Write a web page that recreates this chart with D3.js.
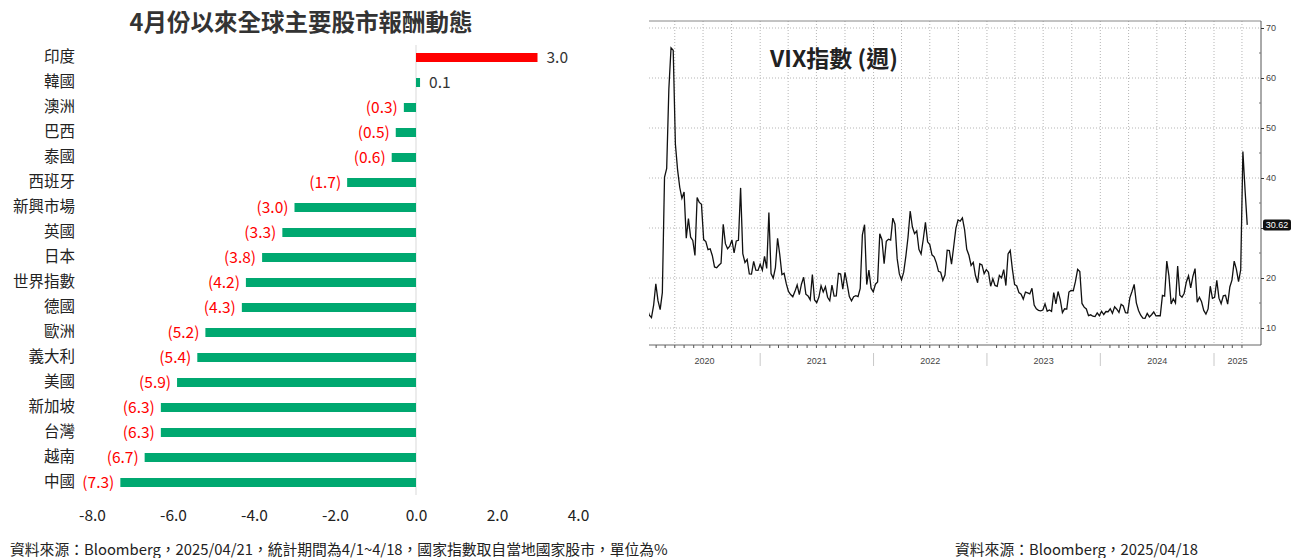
<!DOCTYPE html>
<html>
<head>
<meta charset="utf-8">
<script src="https://cdn.jsdelivr.net/npm/d3@7"></script>
<style>
  body { margin: 0; background: #fff; }
  svg { display: block; font-family: "Noto Sans CJK TC", "Noto Sans", sans-serif; }
</style>
</head>
<body>
<svg id="chart" width="1296" height="558"></svg>
<script>
// ---- left chart: returns since April (%)
var countries = ["印度", "韓國", "澳洲", "巴西", "泰國", "西班牙", "新興市場", "英國", "日本",
                 "世界指數", "德國", "歐洲", "義大利", "美國", "新加坡", "台灣", "越南", "中國"];
var returns = [3.0, 0.1, -0.3, -0.5, -0.6, -1.7, -3.0, -3.3, -3.8,
               -4.2, -4.3, -5.2, -5.4, -5.9, -6.3, -6.3, -6.7, -7.3];
var returnTicks = [-8, -6, -4, -2, 0, 2, 4];
var highlight = "印度";

// ---- right chart: VIX weekly closes
var vix2020 = [14.02, 12.56, 12.10, 14.56, 18.84, 15.47, 13.68, 17.08, 40.11, 41.94,
               57.83, 66.04, 65.54, 46.80, 41.67, 38.15, 35.93, 37.19, 27.98, 31.89,
               28.16, 27.51, 24.52, 36.09, 35.12, 34.73, 27.68, 27.29, 25.68, 25.84,
               24.46, 22.21, 22.05, 22.54, 22.96, 30.75, 26.87, 25.83, 26.38, 27.63,
               25.00, 27.41, 27.55, 38.02, 24.86, 23.10, 23.70, 20.84, 20.79, 23.31,
               21.57, 21.53, 22.75];
var vix2021 = [21.56, 24.34, 21.91, 33.09, 20.87, 19.97, 22.05, 27.95, 24.66, 20.69,
               20.95, 18.86, 17.33, 16.69, 16.25, 17.33, 18.61, 16.69, 18.81, 20.15,
               16.76, 16.42, 15.65, 20.70, 15.62, 15.07, 16.18, 18.45, 17.20, 18.24,
               16.15, 15.45, 18.56, 16.39, 16.41, 20.95, 20.81, 17.75, 21.15, 18.77,
               16.30, 15.43, 16.26, 16.48, 16.29, 17.91, 28.62, 30.67, 18.69, 21.57,
               17.96, 17.22];
var vix2022 = [18.76, 19.19, 28.85, 27.66, 22.88, 27.36, 27.75, 27.59, 31.98, 30.75,
               23.87, 20.81, 19.63, 21.16, 24.37, 28.21, 33.40, 30.19, 28.87, 29.43,
               25.72, 24.79, 27.75, 31.13, 27.23, 26.70, 24.64, 24.23, 23.03, 21.33,
               21.15, 19.53, 20.60, 25.56, 25.47, 22.79, 26.30, 29.92, 31.62, 31.36,
               32.02, 29.69, 25.75, 24.55, 22.52, 23.12, 20.50, 19.06, 22.83, 22.62,
               20.87, 21.67];
var vix2023 = [21.13, 18.35, 19.85, 18.51, 18.33, 20.53, 20.02, 21.67, 18.49, 24.80,
               25.51, 21.74, 18.70, 18.40, 17.07, 16.77, 15.78, 17.19, 17.03, 16.81,
               17.95, 14.60, 13.83, 13.54, 13.44, 13.59, 14.83, 13.34, 13.60, 13.33,
               17.10, 14.84, 17.30, 15.68, 13.09, 13.84, 13.79, 17.20, 17.52, 17.45,
               19.32, 21.71, 21.27, 14.91, 14.17, 13.80, 12.46, 12.63, 12.35, 12.28,
               13.03, 12.45];
var vix2024 = [13.35, 12.70, 13.30, 13.26, 13.85, 12.93, 14.24, 13.75, 13.11, 14.74,
               14.41, 13.06, 13.01, 16.03, 17.31, 18.71, 15.03, 13.49, 12.55, 11.99,
               11.93, 12.92, 12.22, 12.66, 13.20, 12.44, 12.48, 12.46, 16.52, 16.39,
               23.39, 20.37, 14.80, 15.86, 15.00, 22.38, 16.56, 16.15, 16.96, 19.21,
               20.46, 18.03, 20.33, 21.88, 15.16, 16.14, 15.24, 13.51, 12.77, 13.81,
               18.36, 15.95];
var vix2025 = [16.13, 19.54, 15.97, 14.85, 16.43, 16.54, 14.77, 18.21, 19.63, 23.37,
               21.77, 19.28, 21.65, 45.31, 37.56, 30.62];
var vixTicks = [10, 20, 30, 40, 50, 60, 70];
var vixYears = [2020, 2021, 2022, 2023, 2024, 2025];

var svg = d3.select("#chart");

// =============== left: horizontal bars ===============
(function () {
    var x = d3.scaleLinear().domain([-8, 4]).range([92, 578]);
    var y = d3.scaleBand().domain(countries).range([45, 495])
        .paddingInner(0.64).paddingOuter(0.32);

    svg.append("text")
        .attr("x", 301).attr("y", 21)
        .attr("text-anchor", "middle").attr("dominant-baseline", "central")
        .style("font-size", "23.5px").style("font-weight", "bold").style("fill", "#333")
        .text("4月份以來全球主要股市報酬動態");

    svg.append("line")
        .attr("x1", x(0)).attr("x2", x(0)).attr("y1", 45).attr("y2", 495)
        .style("stroke", "#d9d9d9");

    var rows = countries.map(function (c, i) { return { name: c, v: returns[i] }; });

    svg.append("g").selectAll("rect")
        .data(rows).enter().append("rect")
        .attr("x", function (d) { return x(Math.min(0, d.v)); })
        .attr("y", function (d) { return y(d.name); })
        .attr("width", function (d) { return Math.abs(x(d.v) - x(0)); })
        .attr("height", y.bandwidth())
        .style("fill", function (d) { return d.name === highlight ? "#ff0000" : "#00a870"; });

    svg.append("g").selectAll("text")
        .data(rows).enter().append("text")
        .attr("x", function (d) { return d.v >= 0 ? x(d.v) + 9 : x(d.v) - 6; })
        .attr("y", function (d) { return y(d.name) + y.bandwidth() / 2; })
        .attr("dy", "0.35em")
        .attr("text-anchor", function (d) { return d.v >= 0 ? "start" : "end"; })
        .style("font-size", "15.5px")
        .style("fill", function (d) { return d.v >= 0 ? "#333" : "#ff0000"; })
        .text(function (d) { return d.v >= 0 ? d.v.toFixed(1) : "(" + Math.abs(d.v).toFixed(1) + ")"; });

    var yAxis = svg.append("g")
        .attr("transform", "translate(75,0)")
        .call(d3.axisLeft(y).tickSize(0).tickPadding(0));
    yAxis.select(".domain").remove();
    yAxis.selectAll("text").style("font-size", "15.5px").style("fill", "#222")
        .style("font-family", "'Noto Sans CJK TC', sans-serif");

    var xAxis = svg.append("g")
        .attr("transform", "translate(0,507)")
        .call(d3.axisBottom(x).tickValues(returnTicks).tickSize(0)
            .tickFormat(function (d) { return d.toFixed(1); }));
    xAxis.select(".domain").remove();
    xAxis.selectAll("text").style("font-size", "15.5px").style("fill", "#222")
        .style("font-family", "'Noto Sans CJK TC', sans-serif");

    svg.append("text")
        .attr("x", 10).attr("y", 548).attr("dominant-baseline", "central")
        .style("font-size", "14.8px").style("fill", "#222")
        .text("資料來源：Bloomberg，2025/04/21，統計期間為4/1~4/18，國家指數取自當地國家股市，單位為%");
})();

// =============== right: VIX line ===============
(function () {
    var left = 649, right = 1261, top = 21, bottom = 345;
    var values = vix2020.concat(vix2021, vix2022, vix2023, vix2024, vix2025);
    var dates = d3.timeFriday.range(new Date(2020, 0, 3), new Date(2025, 3, 19));
    var data = values.map(function (v, i) { return { date: dates[i], v: v }; });
    var last = data[data.length - 1];

    var x = d3.scaleTime()
        .domain([new Date(2020, 0, 1), new Date(2025, 0, 1)])
        .range([646.5, 1214]);
    var y = d3.scaleLinear().domain([10, 70]).range([328, 28]);

    var g = svg.append("g");

    // dotted grid
    g.selectAll(".hgrid").data(vixTicks).enter().append("line")
        .attr("class", "hgrid")
        .attr("x1", left).attr("x2", right)
        .attr("y1", function (d) { return y(d); }).attr("y2", function (d) { return y(d); })
        .style("stroke", "#b5b5b5").style("stroke-dasharray", "1,2");

    var quarters = d3.timeMonth.every(3).range(new Date(2020, 3, 1), new Date(2025, 3, 2));
    g.selectAll(".vgrid").data(quarters).enter().append("line")
        .attr("class", "vgrid")
        .attr("x1", function (d) { return x(d); }).attr("x2", function (d) { return x(d); })
        .attr("y1", top).attr("y2", bottom)
        .style("stroke", "#b5b5b5").style("stroke-dasharray", "1,2");

    // frame
    g.append("line").attr("x1", left).attr("x2", right).attr("y1", top).attr("y2", top)
        .style("stroke", "#888");
    g.append("line").attr("x1", left).attr("x2", right).attr("y1", bottom).attr("y2", bottom)
        .style("stroke", "#666");

    // monthly ticks
    var months = d3.timeMonth.range(new Date(2020, 1, 1), new Date(2025, 4, 1))
        .filter(function (d) { return d.getMonth() !== 0; });
    g.selectAll(".mtick").data(months).enter().append("line")
        .attr("x1", function (d) { return x(d); }).attr("x2", function (d) { return x(d); })
        .attr("y1", bottom).attr("y2", bottom + 3)
        .style("stroke", "#555");

    // year separators and labels
    var yearStarts = vixYears.slice(1).map(function (yr) { return new Date(yr, 0, 1); });
    g.selectAll(".ysep").data(yearStarts).enter().append("line")
        .attr("x1", function (d) { return x(d); }).attr("x2", function (d) { return x(d); })
        .attr("y1", bottom + 8).attr("y2", bottom + 21)
        .style("stroke", "#c8c8c8");

    g.selectAll(".ylab").data(vixYears).enter().append("text")
        .attr("x", function (yr) {
            var a = Math.max(left, x(new Date(yr, 0, 1)));
            var b = Math.min(right, x(new Date(yr + 1, 0, 1)));
            return (a + b) / 2;
        })
        .attr("y", bottom + 16)
        .attr("text-anchor", "middle").attr("dominant-baseline", "central")
        .style("font-size", "9px").style("fill", "#444")
        .style("font-family", "'Liberation Sans', Arial, sans-serif")
        .text(function (yr) { return yr; });

    // right axis (the tick label under the last-value tag is covered, as in the source)
    g.append("line").attr("x1", right).attr("x2", right).attr("y1", top).attr("y2", bottom)
        .style("stroke", "#555");
    var yAxis = g.append("g")
        .attr("transform", "translate(" + right + ",0)")
        .call(d3.axisRight(y).tickValues(vixTicks).tickSize(3).tickPadding(2)
            .tickFormat(function (d) { return Math.abs(y(d) - y(last.v)) < 8 ? "" : d; }));
    yAxis.select(".domain").remove();
    yAxis.selectAll("line").style("stroke", "#333");
    yAxis.selectAll("text").style("font-size", "9px").style("fill", "#444")
        .style("font-family", "'Liberation Sans', Arial, sans-serif");
    g.selectAll(".minor").data([15, 25, 35, 45, 55, 65]).enter().append("line")
        .attr("x1", right - 2).attr("x2", right)
        .attr("y1", function (d) { return y(d); }).attr("y2", function (d) { return y(d); })
        .style("stroke", "#777");

    // line
    svg.append("clipPath").attr("id", "vclip").append("rect")
        .attr("x", left).attr("y", top).attr("width", right - left).attr("height", bottom - top);
    g.append("path")
        .datum(data)
        .attr("clip-path", "url(#vclip)")
        .attr("d", d3.line().x(function (d) { return x(d.date); }).y(function (d) { return y(d.v); }))
        .style("fill", "none").style("stroke", "#111").style("stroke-width", 1.3);

    // last value tag
    g.append("rect")
        .attr("x", right + 2).attr("y", y(last.v) - 5.5)
        .attr("width", 28).attr("height", 11).attr("rx", 2)
        .style("fill", "#111");
    g.append("text")
        .attr("x", right + 16).attr("y", y(last.v))
        .attr("text-anchor", "middle").attr("dominant-baseline", "central")
        .style("font-size", "9px").style("fill", "#fff")
        .style("font-family", "'Liberation Sans', Arial, sans-serif")
        .text(last.v.toFixed(2));

    g.append("text")
        .attr("x", 834).attr("y", 57)
        .attr("text-anchor", "middle").attr("dominant-baseline", "central")
        .style("font-size", "23px").style("font-weight", "bold").style("fill", "#222")
        .text("VIX指數 (週)");

    svg.append("text")
        .attr("x", 955).attr("y", 548).attr("dominant-baseline", "central")
        .style("font-size", "14.8px").style("fill", "#222")
        .text("資料來源：Bloomberg，2025/04/18");
})();
</script>
</body>
</html>
